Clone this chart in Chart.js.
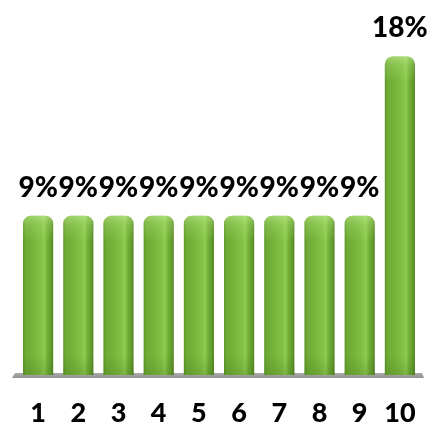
<!DOCTYPE html>
<html>
<head>
<meta charset="utf-8">
<script src="https://cdn.jsdelivr.net/npm/chart.js@4/dist/chart.umd.min.js"></script>
<style>
  html, body { margin: 0; padding: 0; background: #ffffff; }
  #wrap { width: 429px; height: 425px; }
</style>
</head>
<body>
<div id="wrap"><canvas id="c" width="429" height="425"></canvas></div>
<script>
// Categories and the share (percent) for each one
const categories = ['1', '2', '3', '4', '5', '6', '7', '8', '9', '10'];
const shares = [9, 9, 9, 9, 9, 9, 9, 9, 9, 18];

const LABEL_FONT = 'Lato, "Open Sans", sans-serif';
Chart.defaults.font.family = LABEL_FONT;
Chart.defaults.font.weight = 'bold';

// Cylinder-like shading across the width of each bar
function barFill(ctx) {
  const chart = ctx.chart;
  const xs = chart.scales.x;
  if (!xs || !chart.chartArea) return '#70ad36';
  const cx = xs.getPixelForValue(ctx.dataIndex);
  const half = (xs.width / categories.length) * 0.75 / 2;
  const g = chart.ctx.createLinearGradient(cx - half, 0, cx + half, 0);
  g.addColorStop(0.00, '#5a9426');
  g.addColorStop(0.08, '#6eaa34');
  g.addColorStop(0.35, '#76b43b');
  g.addColorStop(0.62, '#84c246');
  g.addColorStop(0.70, '#8fcc52');
  g.addColorStop(0.80, '#74b139');
  g.addColorStop(0.94, '#5f9a2a');
  g.addColorStop(1.00, '#527f20');
  return g;
}

// Grey floor strip under the bars
const floorPlugin = {
  id: 'floor',
  beforeDatasetsDraw(chart) {
    const { ctx, chartArea } = chart;
    const y = chart.scales.y.getPixelForValue(0);
    ctx.save();
    ctx.beginPath();
    ctx.moveTo(chartArea.left - 3, y - 2);
    ctx.lineTo(chartArea.right + 2, y - 2);
    ctx.lineTo(chartArea.right + 4, y + 3);
    ctx.lineTo(chartArea.left - 6, y + 3);
    ctx.closePath();
    const g = ctx.createLinearGradient(0, y - 2, 0, y + 3);
    g.addColorStop(0, '#ababab');
    g.addColorStop(1, '#919191');
    ctx.fillStyle = g;
    ctx.fill();
    ctx.restore();
  }
};

// Lighter cap at the top of each bar plus the value labels above
const capAndLabels = {
  id: 'capAndLabels',
  afterDatasetsDraw(chart) {
    const { ctx } = chart;
    const meta = chart.getDatasetMeta(0);
    meta.data.forEach((bar, i) => {
      const p = bar.getProps(['x', 'y', 'width', 'base'], true);
      const left = p.x - p.width / 2;
      ctx.save();
      const g = ctx.createLinearGradient(0, p.y, 0, p.y + 26);
      g.addColorStop(0, 'rgba(200,240,150,0.55)');
      g.addColorStop(0.35, 'rgba(190,235,140,0.25)');
      g.addColorStop(1, 'rgba(190,235,140,0)');
      ctx.beginPath();
      ctx.roundRect(left, p.y, p.width, 26, [8, 8, 0, 0]);
      ctx.fillStyle = g;
      ctx.fill();
      const b = ctx.createLinearGradient(0, p.base - 20, 0, p.base);
      b.addColorStop(0, 'rgba(40,80,10,0)');
      b.addColorStop(1, 'rgba(40,80,10,0.18)');
      ctx.fillStyle = b;
      ctx.fillRect(left, p.base - 20, p.width, 20);
      ctx.restore();

      // value label
      ctx.save();
      ctx.font = '900 28px ' + LABEL_FONT;
      ctx.fillStyle = '#000000';
      ctx.textAlign = 'center';
      ctx.textBaseline = 'alphabetic';
      ctx.fillText(shares[i] + '%', p.x, p.y - 19);
      ctx.restore();
    });
  }
};

new Chart(document.getElementById('c'), {
  type: 'bar',
  data: {
    labels: categories,
    datasets: [{
      data: shares,
      backgroundColor: barFill,
      borderWidth: 0,
      borderRadius: { topLeft: 8, topRight: 8, bottomLeft: 0, bottomRight: 0 },
      borderSkipped: 'bottom',
      categoryPercentage: 1.0,
      barPercentage: 0.75
    }]
  },
  options: {
    responsive: false,
    maintainAspectRatio: false,
    animation: false,
    devicePixelRatio: 1,
    layout: { padding: { left: 18, right: 9, top: 21, bottom: 0 } },
    plugins: {
      legend: { display: false },
      tooltip: { enabled: false }
    },
    scales: {
      x: {
        grid: {
          display: true,
          drawOnChartArea: false,
          drawTicks: true,
          tickLength: 25,
          tickColor: 'rgba(0,0,0,0)',
          color: 'rgba(0,0,0,0)'
        },
        border: { display: false },
        ticks: {
          color: '#000000',
          padding: 0,
          maxRotation: 0,
          autoSkip: false,
          font: { family: LABEL_FONT, size: 27, weight: 900, lineHeight: 1 }
        },
        afterFit(scale) { scale.height = 50; }
      },
      y: {
        display: false,
        min: 0,
        max: 20
      }
    }
  },
  plugins: [floorPlugin, capAndLabels]
});
</script>
</body>
</html>
